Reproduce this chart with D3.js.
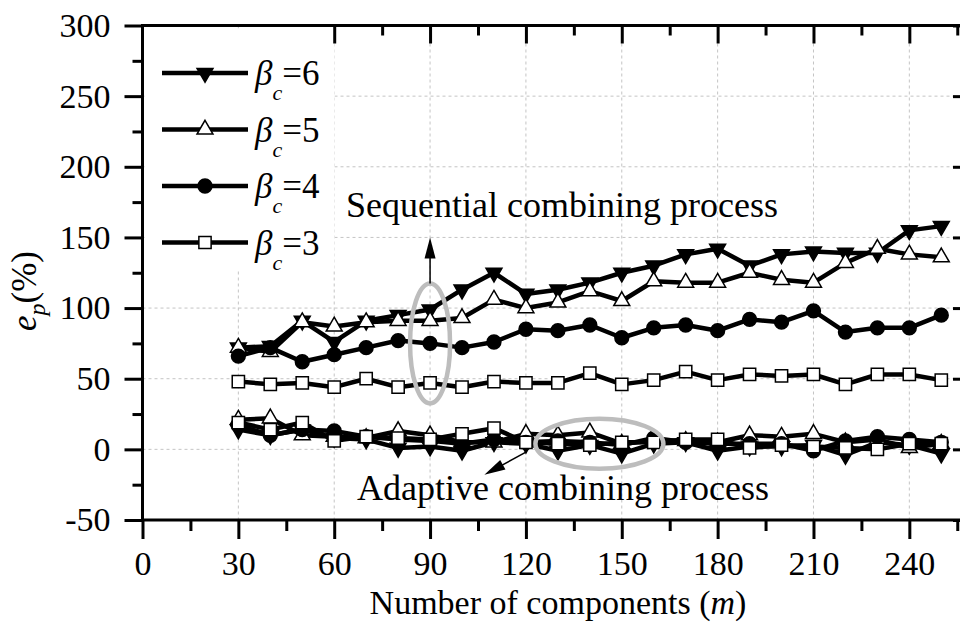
<!DOCTYPE html>
<html>
<head>
<meta charset="utf-8">
<script src="https://cdn.jsdelivr.net/npm/d3@7"></script>
<style>
body { margin: 0; background: #fff; }
svg { display: block; font-family: "Liberation Serif", "Times New Roman", serif; }
</style>
</head>
<body>
<svg width="960" height="624"></svg>
<script>
// number of components
const m = [30, 40, 50, 60, 70, 80, 90, 100, 110, 120, 130, 140, 150, 160, 170, 180, 190, 200, 210, 220, 230, 240, 250];

// sequential combining process
const seq6 = [72, 73, 91, 76, 91, 95, 99, 113, 125, 110, 113, 118, 125, 130, 138, 142, 130, 138, 140, 139, 139, 155, 158];
const seq5 = [72, 69, 90, 87, 90, 91, 91, 93, 106, 100, 104, 112, 105, 119, 118, 118, 125, 120, 118, 132, 142, 138, 136];
const seq4 = [66, 72, 62, 67, 72, 77, 75, 72, 76, 85, 84, 88, 79, 86, 88, 84, 92, 90, 98, 83, 86, 86, 95];
const seq3 = [48, 46, 47, 44, 50, 44, 47, 44, 48, 47, 47, 54, 46, 49, 55, 49, 53, 52, 53, 46, 53, 53, 49];

// adaptive combining process
const ada6 = [14, 10, 14, 8, 7, 1, 2, -1, 5, 4, -1, 3, -3, 4, 5, -1, 2, 2, 3, -4, 5, 3, -3];
const ada5 = [21, 22, 10, 9, 8, 13, 10, 5, 5, 11, 10, 12, 4, 6, 6, 5, 10, 9, 11, 5, 7, 1, 4];
const ada4 = [17, 10, 14, 13, 9, 7, 6, 4, 7, 5, 6, 5, 3, 8, 5, 4, 4, 4, -1, 6, 9, 7, 5];
const ada3 = [19, 14, 19, 6, 9, 8, 7, 11, 15, 5, 4, 3, 5, 5, 7, 7, 1, 3, 2, 1, 0, 4, 4];

const betas = ["6", "5", "4", "3"];
const xTicks = [0, 30, 60, 90, 120, 150, 180, 210, 240];
const xMinor = [15, 45, 75, 105, 135, 165, 195, 225, 255];
const yTicks = [-50, 0, 50, 100, 150, 200, 250, 300];
const yMinor = [-25, 25, 75, 125, 175, 225, 275];

const svg = d3.select("svg");
const pLeft = 142.5, pRight = 971, pTop = 25.5, pBottom = 520;

const x = d3.scaleLinear().domain([0, 259.3]).range([pLeft, pRight]);
const y = d3.scaleLinear().domain([-50, 300]).range([pBottom, pTop]);

// marker shapes per beta
const shapes = {
  "6": { type: d3.symbolTriangle, size: 110, rot: 180, fill: "#000" },
  "5": { type: d3.symbolTriangle, size: 110, rot: 0, fill: "#fff" },
  "4": { type: d3.symbolCircle, size: 150, rot: 0, fill: "#000" },
  "3": { type: d3.symbolSquare, size: 150, rot: 0, fill: "#fff" }
};

// grid
const grid = svg.append("g")
  .attr("stroke", "#c4c4c4")
  .attr("stroke-width", 1)
  .attr("stroke-dasharray", "3,3");
grid.selectAll(".gx")
  .data(xTicks.filter(d => d > 0))
  .enter().append("line")
  .attr("x1", d => x(d)).attr("x2", d => x(d))
  .attr("y1", pTop).attr("y2", pBottom);
grid.selectAll(".gy")
  .data(yTicks.filter(d => d > -50 && d < 300))
  .enter().append("line")
  .attr("x1", pLeft).attr("x2", pRight)
  .attr("y1", d => y(d)).attr("y2", d => y(d));

// series
const line = d3.line().x((d, i) => x(m[i])).y(d => y(d));
const series = [
  { b: "6", vals: seq6 }, { b: "6", vals: ada6 },
  { b: "5", vals: seq5 }, { b: "5", vals: ada5 },
  { b: "4", vals: seq4 }, { b: "4", vals: ada4 },
  { b: "3", vals: seq3 }, { b: "3", vals: ada3 }
];

const plot = svg.append("g");
series.forEach(s => {
  const sh = shapes[s.b];
  plot.append("path")
    .datum(s.vals)
    .attr("d", line)
    .attr("fill", "none")
    .attr("stroke", "#000")
    .attr("stroke-width", 4.5)
    .attr("stroke-linejoin", "round");
  plot.selectAll(null)
    .data(s.vals)
    .enter().append("path")
    .attr("d", d3.symbol().type(sh.type).size(sh.size))
    .attr("transform", (d, i) => "translate(" + x(m[i]) + "," + y(d) + ") rotate(" + sh.rot + ")")
    .attr("fill", sh.fill)
    .attr("stroke", "#000")
    .attr("stroke-width", 1.5);
});

// legend
svg.append("rect")
  .attr("x", pLeft + 2).attr("y", pTop + 3)
  .attr("width", 190).attr("height", 242)
  .attr("fill", "#fff");

const leg = svg.append("g")
  .selectAll("g")
  .data(betas)
  .enter().append("g")
  .attr("transform", (d, i) => "translate(0," + (73 + i * 56.5) + ")");
leg.append("line")
  .attr("x1", 162).attr("x2", 248)
  .attr("stroke", "#000").attr("stroke-width", 4.5);
leg.append("path")
  .attr("d", d => d3.symbol().type(shapes[d].type).size(shapes[d].size)())
  .attr("transform", d => "translate(205,0) rotate(" + shapes[d].rot + ")")
  .attr("fill", d => shapes[d].fill)
  .attr("stroke", "#000").attr("stroke-width", 1.5);
const lt = leg.append("text")
  .attr("x", 255).attr("y", 12)
  .attr("font-size", 35);
lt.append("tspan").attr("font-style", "italic").text("β");
lt.append("tspan").attr("font-style", "italic").attr("font-size", 22).attr("dy", 15).text("c");
lt.append("tspan").attr("dy", -15).text(d => "=" + d);

// annotations
const ann = svg.append("g");
ann.append("ellipse")
  .attr("cx", x(90)).attr("cy", y(75))
  .attr("rx", 20).attr("ry", 60)
  .attr("fill", "none").attr("stroke", "#bdbdbd").attr("stroke-width", 4.5);
ann.append("line")
  .attr("x1", x(90)).attr("x2", x(90))
  .attr("y1", y(75) - 60).attr("y2", y(143))
  .attr("stroke", "#000").attr("stroke-width", 1.5);
ann.append("path")
  .attr("d", "M" + x(90) + "," + y(150) + "l-5.5,21h11z")
  .attr("fill", "#000");
ann.append("text")
  .attr("x", 346).attr("y", 217)
  .attr("font-size", 36)
  .text("Sequential combining process");

ann.append("ellipse")
  .attr("cx", x(143)).attr("cy", y(4))
  .attr("rx", 64).attr("ry", 25)
  .attr("fill", "none").attr("stroke", "#bdbdbd").attr("stroke-width", 4.5);
const ax0 = x(120), ay0 = y(-2), ax1 = x(107), ay1 = y(-18);
const ang = Math.atan2(ay1 - ay0, ax1 - ax0);
ann.append("line")
  .attr("x1", ax0).attr("y1", ay0)
  .attr("x2", ax1 - 15 * Math.cos(ang))
  .attr("y2", ay1 - 15 * Math.sin(ang))
  .attr("stroke", "#000").attr("stroke-width", 1.5);
ann.append("path")
  .attr("d", "M0,0l-21,-5.5v11z")
  .attr("transform", "translate(" + ax1 + "," + ay1 + ") rotate(" + (ang * 180 / Math.PI) + ")")
  .attr("fill", "#000");
ann.append("text")
  .attr("x", 357).attr("y", 500)
  .attr("font-size", 36)
  .text("Adaptive combining process");

// axes
const fmt = d => String(d);
svg.append("g")
  .attr("transform", "translate(0," + pBottom + ")")
  .call(d3.axisBottom(x).tickValues(xTicks).tickSize(19).tickPadding(12).tickFormat(fmt))
  .call(g => g.select(".domain").remove());
svg.append("g")
  .attr("transform", "translate(0," + pBottom + ")")
  .call(d3.axisBottom(x).tickValues(xMinor).tickSize(11).tickFormat(""))
  .call(g => g.select(".domain").remove());
svg.append("g")
  .attr("transform", "translate(" + pLeft + ",0)")
  .call(d3.axisLeft(y).tickValues(yTicks).tickSize(18).tickPadding(14).tickFormat(fmt))
  .call(g => g.select(".domain").remove());
svg.append("g")
  .attr("transform", "translate(" + pLeft + ",0)")
  .call(d3.axisLeft(y).tickValues(yMinor).tickSize(10).tickFormat(""))
  .call(g => g.select(".domain").remove());
svg.append("g")
  .attr("transform", "translate(0," + pTop + ")")
  .call(d3.axisTop(x).tickValues(xTicks.filter(d => d >= 60)).tickSize(-18).tickFormat(""))
  .call(g => g.select(".domain").remove());
svg.append("g")
  .attr("transform", "translate(0," + pTop + ")")
  .call(d3.axisTop(x).tickValues(xMinor.filter(d => d >= 60)).tickSize(-10).tickFormat(""))
  .call(g => g.select(".domain").remove());
svg.append("g")
  .attr("transform", "translate(" + pRight + ",0)")
  .call(d3.axisRight(y).tickValues(yTicks).tickSize(-18).tickFormat(""))
  .call(g => g.select(".domain").remove());

svg.selectAll(".tick line").attr("stroke", "#000").attr("stroke-width", 3);
svg.selectAll(".tick text")
  .attr("font-family", "'Liberation Serif', 'Times New Roman', serif")
  .attr("font-size", 34)
  .attr("fill", "#000");

svg.append("rect")
  .attr("x", pLeft).attr("y", pTop)
  .attr("width", pRight - pLeft).attr("height", pBottom - pTop)
  .attr("fill", "none").attr("stroke", "#000").attr("stroke-width", 3);

// axis titles
const xt = svg.append("text")
  .attr("x", 558).attr("y", 614)
  .attr("text-anchor", "middle")
  .attr("font-size", 34);
xt.append("tspan").text("Number of components (");
xt.append("tspan").attr("font-style", "italic").text("m");
xt.append("tspan").text(")");

const yt = svg.append("text")
  .attr("transform", "translate(36,291) rotate(-90)")
  .attr("text-anchor", "middle")
  .attr("font-size", 35);
yt.append("tspan").attr("font-style", "italic").text("e");
yt.append("tspan").attr("font-style", "italic").attr("font-size", 24).attr("dy", 9).text("p");
yt.append("tspan").attr("dy", -9).text("(%)");
</script>
</body>
</html>
